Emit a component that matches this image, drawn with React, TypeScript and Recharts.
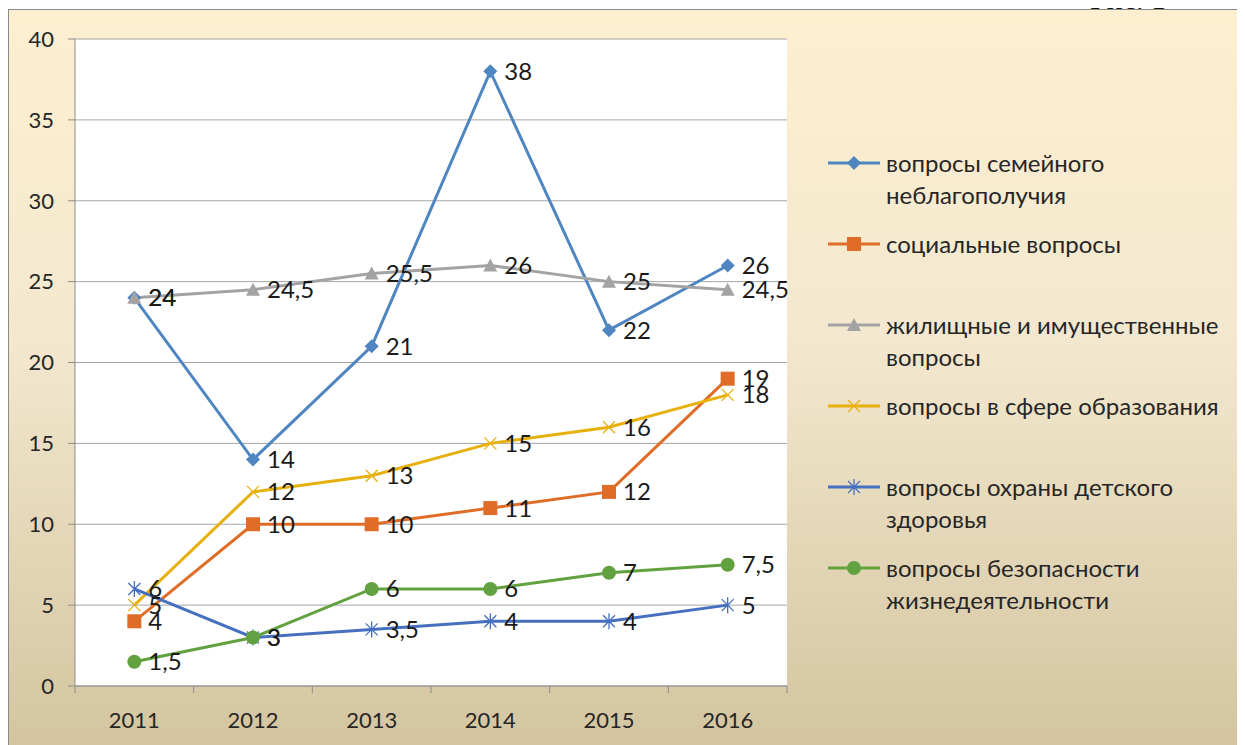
import React from "react";
import { LineChart, Line, XAxis, YAxis, CartesianGrid, LabelList } from "recharts";

const years = ["2011", "2012", "2013", "2014", "2015", "2016"];
const family = [24, 14, 21, 38, 22, 26];
const social = [4, 10, 10, 11, 12, 19];
const housing = [24, 24.5, 25.5, 26, 25, 24.5];
const education = [5, 12, 13, 15, 16, 18];
const health = [6, 3, 3.5, 4, 4, 5];
const safety = [1.5, 3, 6, 6, 7, 7.5];
const yTicks = [0, 5, 10, 15, 20, 25, 30, 35, 40];

const series = [
  { key: "family", name: "вопросы семейного неблагополучия", values: family, color: "#4f86c2", shape: "diamond" },
  { key: "social", name: "социальные вопросы", values: social, color: "#df6d28", shape: "square" },
  { key: "housing", name: "жилищные и имущественные вопросы", values: housing, color: "#a3a3a3", shape: "triangle" },
  { key: "education", name: "вопросы в сфере образования", values: education, color: "#e8b00c", shape: "cross" },
  { key: "health", name: "вопросы охраны детского здоровья", values: health, color: "#4670bf", shape: "star" },
  { key: "safety", name: "вопросы безопасности жизнедеятельности", values: safety, color: "#62a13f", shape: "circle" },
];

const rows = years.map((year, i) => {
  const row: Record<string, string | number> = { year };
  series.forEach((s) => (row[s.key] = s.values[i]));
  return row;
});

const W = 1236;
const H = 735;
const M = { top: 29, right: 458, bottom: 0, left: 0 };
const Y_W = 66;
const X_H = 59;
const PLOT_W = W - M.right - Y_W;
const BAND = PLOT_W / years.length;
const FONT = "Lato, 'Open Sans', sans-serif";
const FS = 22;
const FS_LBL = 24;

function Marker({ shape, cx, cy, color }: { shape: string; cx: number; cy: number; color: string }) {
  if (cx == null || cy == null) return null;
  switch (shape) {
    case "diamond":
      return <path d={`M${cx},${cy - 7} L${cx + 7},${cy} L${cx},${cy + 7} L${cx - 7},${cy} Z`} fill={color} />;
    case "square":
      return <rect x={cx - 7} y={cy - 7} width={14} height={14} fill={color} />;
    case "triangle":
      return <path d={`M${cx},${cy - 7} L${cx + 7},${cy + 6} L${cx - 7},${cy + 6} Z`} fill={color} />;
    case "cross":
      return (
        <path d={`M${cx - 6},${cy - 6} L${cx + 6},${cy + 6} M${cx + 6},${cy - 6} L${cx - 6},${cy + 6}`} stroke={color} strokeWidth={1.3} />
      );
    case "star":
      return (
        <path
          d={`M${cx - 6},${cy - 6} L${cx + 6},${cy + 6} M${cx + 6},${cy - 6} L${cx - 6},${cy + 6} M${cx},${cy - 8} L${cx},${cy + 8}`}
          stroke={color}
          strokeWidth={1.3}
        />
      );
    default:
      return <circle cx={cx} cy={cy} r={7} fill={color} />;
  }
}

function XTick(p: any) {
  const { x, y, payload, index, visibleTicksCount } = p;
  return (
    <g>
      <line x1={x - BAND / 2} x2={x - BAND / 2} y1={y} y2={y + 7} stroke="#8c8c8c" />
      {index === visibleTicksCount - 1 && (
        <line x1={x + BAND / 2} x2={x + BAND / 2} y1={y} y2={y + 7} stroke="#8c8c8c" />
      )}
      <text x={x} y={y + 33} textAnchor="middle" dominantBaseline="central" fill="#262626" fontSize={FS} fontFamily={FONT}>
        {payload.value}
      </text>
    </g>
  );
}

const fmt = (v: any) => String(v).replace(".", ",");

function LegendBox() {
  return (
    <div style={{ position: "absolute", left: 819, top: 137, fontFamily: FONT, fontSize: FS_LBL, color: "#262626" }}>
      {series.map((s) => (
        <div key={s.key} style={{ display: "flex", height: 81, alignItems: "flex-start" }}>
          <svg width={58} height={32} style={{ flex: "none" }}>
            <line x1={0} x2={52} y1={16} y2={16} stroke={s.color} strokeWidth={3} />
            <Marker shape={s.shape} cx={26} cy={16} color={s.color} />
          </svg>
          <div style={{ width: 352, lineHeight: "32px" }}>{s.name}</div>
        </div>
      ))}
    </div>
  );
}

export default function App() {
  return (
    <div style={{ position: "relative", top: 1 }}>
      <div
        style={{
          position: "absolute",
          top: -27,
          left: 1082,
          fontFamily: "'Liberation Serif', serif",
          fontSize: 30,
          lineHeight: "34px",
          color: "#111",
        }}
      >
        Рис. 1
      </div>
      <div
        style={{
          position: "relative",
          width: W,
          height: H,
          border: "1px solid #8a8a8a",
          background: "linear-gradient(180deg, #fdefd0 0%, #f3e8cf 45%, #d4c5a0 100%)",
        }}
      >
        <LineChart width={W} height={H} data={rows} margin={M}>
          <CartesianGrid vertical={false} stroke="#a6a6a6" fill="#ffffff" />
          <XAxis
            dataKey="year"
            height={X_H}
            padding={{ left: BAND / 2, right: BAND / 2 }}
            tickLine={false}
            tickSize={0}
            tickMargin={0}
            axisLine={{ stroke: "#8c8c8c" }}
            tick={(p: any) => <XTick {...p} />}
            interval={0}
          />
          <YAxis
            width={Y_W}
            domain={[0, 40]}
            ticks={yTicks}
            tickSize={7}
            tickMargin={14}
            tickLine={{ stroke: "#8c8c8c" }}
            axisLine={{ stroke: "#8c8c8c" }}
            tick={{ fill: "#262626", fontSize: FS, fontFamily: FONT }}
          />
          {series.map((s) => (
            <Line
              key={s.key}
              dataKey={s.key}
              name={s.name}
              type="linear"
              stroke={s.color}
              strokeWidth={3}
              isAnimationActive={false}
              dot={(d: any) => <Marker key={`${s.key}-${d.index}`} shape={s.shape} cx={d.cx} cy={d.cy} color={s.color} />}
              activeDot={false}
            >
              <LabelList
                dataKey={s.key}
                position="right"
                offset={14}
                formatter={fmt}
                fill="#1a1a1a"
                fontSize={FS_LBL}
                fontFamily={FONT}
              />
            </Line>
          ))}
        </LineChart>
        <LegendBox />
      </div>
    </div>
  );
}
